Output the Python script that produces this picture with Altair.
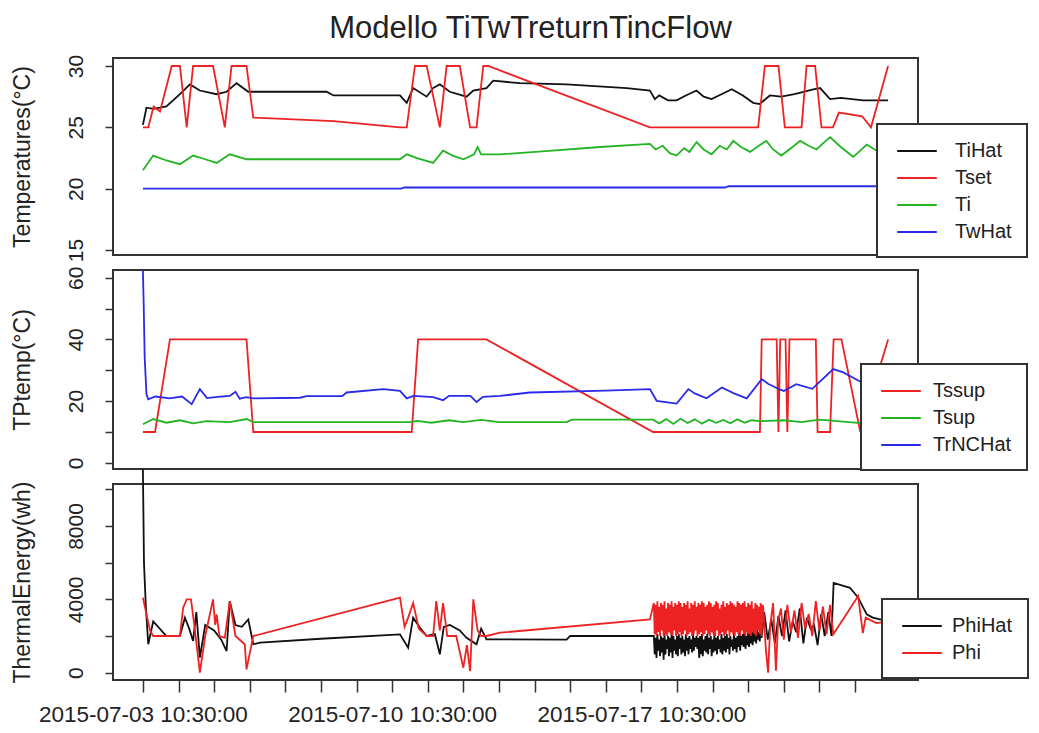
import altair as alt
import pandas as pd

FONT = "Liberation Sans"
TXT = "#222222"
BOX = "#333333"

# ---------------- x axis: days after 2015-07-03 10:30:00 ----------------
x_ticks = [0, 1, 2, 3, 4, 5, 6, 7, 8, 9, 10, 11, 12, 13, 14, 15, 16, 17, 18, 19, 20]
x_tick_labels = {0: "2015-07-03 10:30:00", 7: "2015-07-10 10:30:00", 14: "2015-07-17 10:30:00"}

# ---------------- panel 1: Temperatures ----------------
tihat_d = [0.0, 0.1, 0.3, 0.66, 1.04, 1.32, 1.6, 2.07, 2.35, 2.63, 2.96, 4.0, 5.16, 5.35, 7.22, 7.41, 7.59, 7.97, 8.15, 8.34,
           8.62, 9.09, 9.28, 9.65, 9.84, 10.59, 11.9, 13.59, 14.24, 14.38, 14.5, 14.75, 14.99, 15.25, 15.55, 15.75, 15.97, 16.25, 16.54, 16.85,
           17.14, 17.32, 17.61, 17.93, 18.3, 18.83, 19.02, 19.3, 19.6, 20.23, 20.5, 20.93]
tihat_v = [25.2, 26.6, 26.5, 26.7, 27.7, 28.5, 28.0, 27.7, 27.9, 28.6, 27.9, 27.9, 27.9, 27.6, 27.6, 27.0, 28.2, 27.5, 28.2, 28.5,
           27.9, 27.5, 28.0, 28.2, 28.8, 28.6, 28.5, 28.2, 28.0, 27.3, 27.6, 27.2, 27.2, 27.6, 28.0, 27.5, 27.3, 27.7, 28.1, 27.6,
           27.0, 26.9, 27.6, 27.5, 27.7, 28.1, 28.2, 27.3, 27.4, 27.2, 27.2, 27.2]

tset_d = [0.0, 0.15, 0.3, 0.48, 0.81, 1.04, 1.23, 1.41, 1.97, 2.30, 2.49, 2.91, 3.10, 5.35, 7.22, 7.41, 7.64, 7.97, 8.34, 8.53,
          8.90, 9.19, 9.37, 9.56, 9.70, 14.24, 17.28, 17.47, 17.85, 18.03, 18.50, 18.64, 18.88, 19.06, 19.38, 19.55, 20.20, 20.45, 20.93]
tset_v = [25.0, 25.0, 26.7, 26.3, 30.0, 30.0, 25.0, 30.0, 30.0, 25.0, 30.0, 30.0, 25.8, 25.5, 25.0, 25.0, 30.0, 30.0, 25.0, 30.0,
          30.0, 25.0, 25.0, 30.0, 30.0, 25.0, 25.0, 30.0, 30.0, 25.0, 25.0, 30.0, 30.0, 25.0, 25.0, 26.2, 25.9, 25.0, 30.0]

ti_d = [0.0, 0.29, 0.66, 1.04, 1.41, 1.75, 2.07, 2.44, 2.91, 5.0, 7.22, 7.41, 7.7, 8.15, 8.43, 8.7, 9.0, 9.3, 9.4, 9.5,
        10.03, 11.5, 12.84, 14.24, 14.4, 14.6, 14.8, 14.99, 15.2, 15.35, 15.55, 15.75, 15.97, 16.2, 16.4, 16.58, 16.8, 17.05, 17.3, 17.51,
        17.7, 17.93, 18.2, 18.46, 18.7, 18.92, 19.1, 19.3, 19.6, 19.95, 20.15, 20.33, 20.61, 20.93]
ti_v = [21.5, 22.7, 22.3, 22.0, 22.7, 22.4, 22.1, 22.8, 22.4, 22.4, 22.4, 22.8, 22.5, 22.1, 23.1, 22.7, 22.4, 22.8, 23.4, 22.8,
        22.8, 23.1, 23.4, 23.65, 23.2, 23.5, 22.9, 22.7, 23.3, 23.0, 23.8, 23.2, 22.8, 23.5, 23.2, 23.9, 23.4, 23.0, 23.5, 23.9,
        23.2, 22.7, 23.3, 23.9, 23.5, 23.2, 23.7, 24.2, 23.4, 22.6, 23.1, 23.6, 23.1, 22.9]

twhat_d = [0.0, 7.25, 7.35, 16.35, 16.45, 20.55, 20.93]
twhat_v = [20.0, 20.0, 20.1, 20.1, 20.2, 20.2, 20.45]

# ---------------- panel 2: TPtemp ----------------
tssup_d = [0.0, 0.34, 0.76, 2.91, 3.10, 7.55, 7.73, 9.65, 14.33, 17.33, 17.38, 17.80, 17.85, 17.90, 18.05, 18.10, 18.16, 18.90, 18.95, 19.30,
           19.40, 19.62, 20.15, 20.93]
tssup_v = [10, 10, 40, 40, 10, 10, 40, 40, 10, 10, 40, 40, 10, 40, 40, 10, 40, 40, 10, 10,
           40, 40, 10, 40]

tsup_d = [0.0, 0.29, 0.66, 1.04, 1.41, 1.78, 2.44, 2.91, 3.10, 7.50, 7.70, 8.10, 8.60, 9.00, 9.50, 10.00, 11.90, 12.05, 14.33, 14.50,
          14.70, 14.90, 15.10, 15.30, 15.50, 15.70, 15.90, 16.10, 16.30, 16.50, 16.70, 16.90, 17.10, 17.33, 18.00, 18.50, 19.00, 19.50, 20.00, 20.50,
          20.93]
tsup_v = [12.5, 14.2, 13.0, 13.8, 12.8, 13.5, 13.2, 14.2, 13.2, 13.2, 13.6, 13.0, 13.8, 13.2, 13.9, 13.2, 13.2, 14.0, 14.0, 12.8,
          14.2, 12.6, 14.3, 12.9, 14.1, 12.7, 14.0, 13.0, 13.9, 12.8, 14.1, 13.0, 13.8, 13.5, 13.8, 13.2, 14.0, 13.5, 13.0, 12.5,
          12.8]

trnchat_d = [0.0, 0.02, 0.05, 0.1, 0.15, 0.35, 0.75, 1.1, 1.37, 1.6, 1.8, 2.1, 2.44, 2.6, 2.72, 2.91, 3.1, 4.41, 4.6, 5.6,
             5.72, 6.75, 7.22, 7.41, 7.6, 8.15, 8.43, 8.6, 9.2, 9.37, 9.55, 10.03, 10.87, 13.0, 14.24, 14.43, 14.99, 15.32, 15.5, 15.83,
             16.26, 16.6, 16.96, 17.38, 17.56, 17.84, 18.0, 18.35, 18.8, 19.39, 19.67, 20.09, 20.5, 20.93]
trnchat_v = [62.3, 52.5, 34.1, 22.3, 20.6, 21.5, 20.9, 21.5, 19.0, 23.9, 21.0, 21.4, 21.7, 23.0, 20.8, 21.3, 20.9, 21.1, 21.6, 21.6,
             22.8, 23.9, 23.3, 20.9, 21.7, 21.3, 20.3, 21.7, 21.7, 19.7, 21.4, 21.7, 22.8, 23.4, 23.9, 20.1, 19.2, 23.9, 22.5, 20.9,
             24.4, 22.5, 20.9, 27.1, 25.6, 24.0, 23.3, 25.5, 24.0, 30.4, 29.3, 26.7, 24.5, 22.0]

# ---------------- panel 3: ThermalEnergy ----------------
phihat_early_d = [0.0, 0.03, 0.08, 0.15, 0.29, 0.66, 1.04, 1.18, 1.3, 1.41, 1.5, 1.6, 1.75, 2.0, 2.2, 2.35, 2.44, 2.6, 2.78, 2.96,
                  3.1, 3.29, 5.0, 7.22, 7.45, 7.59, 7.8, 7.97, 8.2, 8.34, 8.45, 8.62, 8.9, 9.09, 9.37, 9.5, 9.65, 11.9, 12.0, 14.3]
phihat_early_v = [11100, 6000, 3700, 1550, 2800, 2000, 2000, 3000, 2400, 1730, 3300, 820, 2600, 2300, 1800, 1180, 3900, 2600, 2500, 2900,
                  1550, 1640, 1850, 2090, 1360, 3000, 2400, 2000, 2100, 1000, 2500, 2600, 2300, 1900, 1550, 2400, 1820, 1800, 2000, 2000]

# densely sampled stretch (14.35 .. 17.40 days)
dense_d = [14.350, 14.375, 14.400, 14.425, 14.450, 14.475, 14.500, 14.525, 14.550, 14.575,
           14.600, 14.625, 14.650, 14.675, 14.700, 14.725, 14.750, 14.775, 14.800, 14.825,
           14.850, 14.875, 14.900, 14.925, 14.950, 14.975, 15.000, 15.025, 15.050, 15.075,
           15.100, 15.125, 15.150, 15.175, 15.200, 15.225, 15.250, 15.275, 15.300, 15.325,
           15.350, 15.375, 15.400, 15.425, 15.450, 15.475, 15.500, 15.525, 15.550, 15.575,
           15.600, 15.625, 15.650, 15.675, 15.700, 15.725, 15.750, 15.775, 15.800, 15.825,
           15.850, 15.875, 15.900, 15.925, 15.950, 15.975, 16.000, 16.025, 16.050, 16.075,
           16.100, 16.125, 16.150, 16.175, 16.200, 16.225, 16.250, 16.275, 16.300, 16.325,
           16.350, 16.375, 16.400, 16.425, 16.450, 16.475, 16.500, 16.525, 16.550, 16.575,
           16.600, 16.625, 16.650, 16.675, 16.700, 16.725, 16.750, 16.775, 16.800, 16.825,
           16.850, 16.875, 16.900, 16.925, 16.950, 16.975, 17.000, 17.025, 17.050, 17.075,
           17.100, 17.125, 17.150, 17.175, 17.200, 17.225, 17.250, 17.275, 17.300, 17.325,
           17.350, 17.375, 17.400]
phi_dense_v = [3800, 2100, 3700, 2000, 3900, 2200, 3600, 2000, 3800, 2300,
               3700, 2000, 3900, 2100, 3500, 2000, 3800, 2200, 3700, 2100,
               3900, 2000, 3600, 2300, 3800, 2000, 3700, 2100, 3900, 2200,
               3800, 2000, 3600, 2100, 3800, 2300, 3700, 2000, 3900, 2100,
               3500, 2200, 3800, 2000, 3700, 2100, 3900, 2300, 3600, 2000,
               3800, 2100, 3700, 2200, 3900, 2000, 3800, 2100, 3600, 2300,
               3700, 2100, 3900, 2000, 3800, 2200, 3600, 2100, 3700, 2000,
               3900, 2300, 3800, 2000, 3500, 2100, 3700, 2200, 3900, 2000,
               3600, 2100, 3800, 2300, 3700, 2000, 3900, 2200, 3800, 2100,
               3700, 2000, 3600, 2200, 3900, 2100, 3800, 2000, 3700, 2300,
               3800, 2100, 3900, 2000, 3600, 2200, 3800, 2100, 3700, 2000,
               3900, 2200, 3500, 2100, 3800, 2000, 3700, 2300, 3600, 2100,
               3800, 2000, 3700]
phihat_dense_v = [2000, 1000, 1900, 800, 2100, 1200, 1800, 900, 2000, 1100,
                  1900, 700, 2100, 1000, 1800, 1300, 2000, 900, 1900, 1100,
                  2100, 800, 2000, 1200, 1800, 1000, 2000, 900, 2100, 1300,
                  1900, 1000, 2000, 1100, 1800, 900, 2100, 1200, 1900, 1000,
                  2000, 1300, 1800, 1100, 2100, 1200, 1900, 1400, 2000, 1300,
                  1900, 800, 2000, 1000, 2100, 900, 1800, 1200, 2000, 1100,
                  2100, 1000, 1900, 1300, 2000, 900, 1800, 1100, 2100, 1200,
                  1900, 1000, 2000, 1300, 1800, 1100, 2100, 1000, 1900, 1200,
                  2000, 1100, 2100, 1300, 1900, 1000, 2000, 1400, 1800, 1200,
                  2100, 1300, 1900, 1100, 2000, 1400, 2200, 1200, 2000, 1500,
                  2100, 1400, 2300, 1300, 2000, 1500, 2200, 1400, 2400, 1600,
                  2200, 1500, 2300, 1700, 2100, 1600, 2400, 1800, 2200, 1700,
                  2500, 1900, 2300]

phihat_late_d = [17.45, 17.55, 17.65, 17.75, 17.85, 17.95, 18.05, 18.15, 18.25, 18.35, 18.45, 18.55, 18.65, 18.75, 18.85, 18.95,
                 19.05, 19.15, 19.25, 19.34, 19.40, 19.86, 20.09, 20.33, 20.50, 20.93]
phihat_late_v = [3300, 1800, 2900, 1600, 3100, 2000, 3400, 1700, 2800, 2200, 3500, 1600, 3000, 2400, 2600, 1500,
                 3200, 2000, 3300, 2000, 4900, 4630, 4090, 3180, 3000, 2800]

phi_early_d = [0.0, 0.1, 0.2, 0.29, 1.04, 1.13, 1.23, 1.35, 1.45, 1.6, 1.75, 1.97, 2.03, 2.07, 2.15, 2.3, 2.44, 2.6, 2.86, 2.91,
               3.1, 7.22, 7.35, 7.45, 7.59, 7.75, 7.97, 8.15, 8.24, 8.34, 8.43, 8.55, 8.8, 9.0, 9.1, 9.19, 9.28, 9.4, 9.5, 9.65,
               10.03, 14.24]
phi_early_v = [4090, 3180, 2300, 2000, 2000, 3540, 4000, 4000, 2500, 0, 2000, 4000, 2600, 3180, 2000, 1900, 3900, 2000, 1550, 180,
               2000, 4090, 2500, 3000, 3800, 2400, 2000, 2000, 3900, 2300, 3800, 2000, 2000, 270, 1500, 90, 4000, 2300, 2000, 2000,
               2180, 2900]

phi_late_d = [17.42, 17.50, 17.56, 17.62, 17.70, 17.78, 17.84, 17.92, 18.00, 18.10, 18.20, 18.30, 18.40, 18.50, 18.60, 18.70,
              18.80, 18.90, 19.00, 19.10, 19.20, 19.30, 19.39, 20.09, 20.22, 20.30, 20.60, 20.93]
phi_late_v = [3600, 1200, 0, 2600, 3800, 100, 2800, 3500, 1800, 3700, 2200, 3400, 1900, 3800, 2400, 3200,
              2000, 3900, 2300, 3600, 2100, 3700, 2090, 4180, 2160, 3000, 2700, 2800]

phihat_d = phihat_early_d + dense_d + phihat_late_d
phihat_v = phihat_early_v + phihat_dense_v + phihat_late_v
phi_d = phi_early_d + dense_d + phi_late_d
phi_v = phi_early_v + phi_dense_v + phi_late_v

# ---------------- helpers ----------------
def frame(series):
    rows = []
    for name, ds, vs in series:
        for i, (d, v) in enumerate(zip(ds, vs)):
            rows.append({"series": name, "d": d, "v": v, "i": i})
    return pd.DataFrame(rows)


x_expr = " : ".join(f"datum.value == {k} ? '{v}'" for k, v in x_tick_labels.items()) + " : ''"
X_DOMAIN = [-0.84, 21.77]
W = 805


def panel(df, names, colors, ydom, yvals, ylab_expr, ytitle, h, lx, ly, lab_off, show_x):
    if show_x:
        xaxis = alt.Axis(values=x_ticks, labelExpr=x_expr, tickSize=12, labelPadding=11, labelLimit=400,
                         labelFlush=False, labelOverlap=False, labelFontSize=22.5)
    else:
        xaxis = None
    return alt.Chart(df).mark_line(strokeWidth=1.8, clip=False).encode(
        x=alt.X("d:Q", scale=alt.Scale(domain=X_DOMAIN, nice=False, zero=False), axis=xaxis, title=None),
        y=alt.Y("v:Q", scale=alt.Scale(domain=ydom, nice=False, zero=False), title=ytitle,
                axis=alt.Axis(values=yvals, labelExpr=ylab_expr, format="d", labelAngle=270,
                              labelAlign="center", labelBaseline="alphabetic", tickSize=8, labelPadding=23,
                              titleAngle=270, titleX=-83.5, titleY=h / 2, titleAlign="center",
                              titleBaseline="alphabetic", labelFlush=False, labelOverlap=False)),
        color=alt.Color("series:N", scale=alt.Scale(domain=names, range=colors),
                        legend=alt.Legend(orient="none", legendX=lx, legendY=ly, title=None,
                                          symbolType="M-1.8,0L1.8,0", symbolSize=484, symbolStrokeWidth=2,
                                          symbolOffset=13, labelOffset=lab_off, padding=15, rowPadding=5,
                                          labelFontSize=20, labelFont=FONT, labelColor=TXT,
                                          strokeColor=BOX, fillColor="white")),
        order=alt.Order("i:Q"),
    ).properties(width=W, height=h)


BLACK, RED, GREEN, BLUE = "#111111", "#EE2222", "#22B422", "#2a2ae8"

p1 = panel(frame([("TiHat", tihat_d, tihat_v), ("Tset", tset_d, tset_v), ("Ti", ti_d, ti_v),
                  ("TwHat", twhat_d, twhat_v)]),
           ["TiHat", "Tset", "Ti", "TwHat"], [BLACK, RED, GREEN, BLUE],
           [14.6, 30.65], [15, 20, 25, 30], "datum.label", "Temperatures(°C)", 197, 764, 66, 26, False
           ).properties(title=alt.TitleParams("Modello TiTwTreturnTincFlow", font=FONT, fontSize=31,
                                              fontWeight="normal", color=TXT, anchor="middle", frame="group",
                                              baseline="alphabetic", offset=-15, dx=15))

p2 = panel(frame([("Tssup", tssup_d, tssup_v), ("Tsup", tsup_d, tsup_v), ("TrNCHat", trnchat_d, trnchat_v)]),
           ["Tssup", "Tsup", "TrNCHat"], [RED, GREEN, BLUE],
           [-2.0, 62.5], [0, 10, 20, 30, 40, 50, 60], "datum.value % 20 == 0 ? datum.label : ''",
           "TPtemp(°C)", 199, 748, 94, 20, False)

p3 = panel(frame([("PhiHat", phihat_d, phihat_v), ("Phi", phi_d, phi_v)]),
           ["PhiHat", "Phi"], [BLACK, RED],
           [-400, 10290], [0, 2000, 4000, 6000, 8000, 10000], "datum.value % 4000 == 0 ? datum.label : ''",
           "ThermalEnergy(wh)", 196, 769, 115, 18, True)

chart = alt.vconcat(
    p1, p2, p3, spacing=15, bounds="flush",
).resolve_scale(y="independent", color="independent").resolve_legend(color="independent").properties(
    padding={"left": 2, "top": 4, "right": 0, "bottom": 0}
).configure_view(stroke=BOX, strokeWidth=2).configure_axis(
    grid=False, domain=False, tickColor=BOX, tickWidth=1.5, labelFont=FONT, titleFont=FONT,
    labelFontSize=21, titleFontSize=23, labelColor=TXT, titleColor=TXT, titleFontWeight="normal"
).configure_legend(strokeWidth=2)

chart.save("out.html", embed_options={"renderer": "svg", "actions": False})
